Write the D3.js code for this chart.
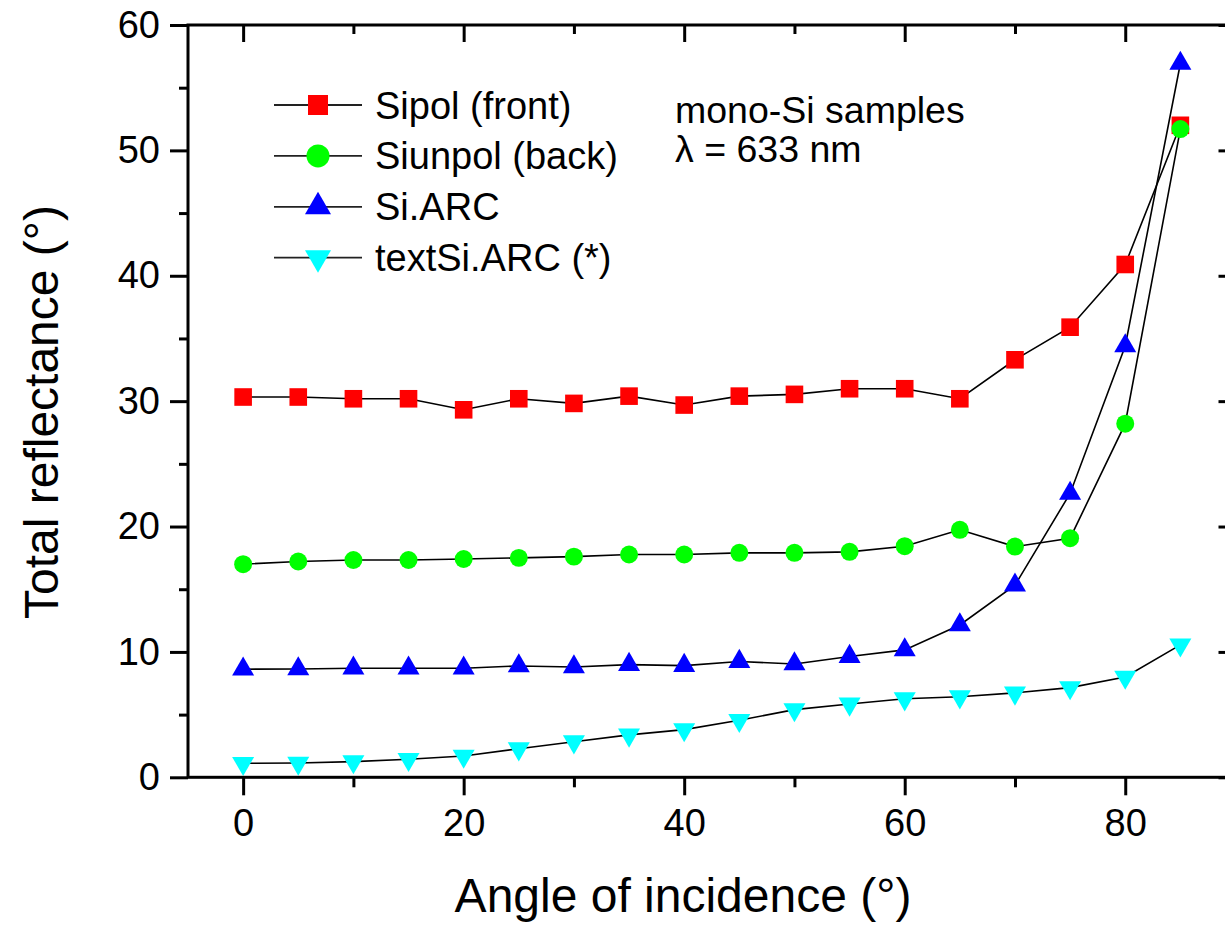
<!DOCTYPE html>
<html>
<head>
<meta charset="utf-8">
<script src="https://cdn.jsdelivr.net/npm/d3@7/dist/d3.min.js"></script>
<style>
  html, body { margin: 0; padding: 0; background: #fff; }
  svg { display: block; font-family: "Liberation Sans", Arial, sans-serif; }
</style>
</head>
<body>
<svg id="chart" width="1225" height="928"></svg>
<script>
// ---- data ----
const angles = [0, 5, 10, 15, 20, 25, 30, 35, 40, 45, 50, 55, 60, 65, 70, 75, 80, 85];
const sipolFront = [30.33, 30.33, 30.19, 30.19, 29.31, 30.19, 29.82, 30.4, 29.69, 30.4, 30.54, 30.99, 30.99, 30.19, 33.3, 35.9, 40.9, 52.0];
const siunpolBack = [17.0, 17.21, 17.33, 17.33, 17.41, 17.5, 17.6, 17.77, 17.77, 17.9, 17.9, 17.98, 18.43, 19.74, 18.4, 19.07, 28.2, 51.7];
const siARC = [8.62, 8.64, 8.7, 8.7, 8.7, 8.88, 8.8, 8.99, 8.91, 9.23, 9.04, 9.63, 10.16, 12.15, 15.32, 22.64, 34.4, 56.93];
const textSiARC = [1.12, 1.14, 1.25, 1.44, 1.70, 2.28, 2.84, 3.38, 3.80, 4.55, 5.4, 5.85, 6.27, 6.43, 6.73, 7.15, 8.0, 10.56];
const seriesNames = ["Sipol (front)", "Siunpol (back)", "Si.ARC", "textSi.ARC (*)"];
const xMajorTicks = [0, 20, 40, 60, 80];
const xMinorTicks = [10, 30, 50, 70, 90];
const yMajorTicks = [0, 10, 20, 30, 40, 50, 60];
const yMinorTicks = [5, 15, 25, 35, 45, 55];
const xTitle = "Angle of incidence (\u00B0)";
const yTitle = "Total reflectance (\u00B0)";
const notes = ["mono-Si samples", "\u03BB = 633 nm"];

const series = [
  { name: seriesNames[0], values: sipolFront, color: "#FF0000", shape: "square" },
  { name: seriesNames[1], values: siunpolBack, color: "#00FF00", shape: "circle" },
  { name: seriesNames[2], values: siARC, color: "#0000FF", shape: "up" },
  { name: seriesNames[3], values: textSiARC, color: "#00FFFF", shape: "down" }
];

// ---- layout ----
const svg = d3.select("#chart");
const L = 188, R = 1235.5, T = 25, B = 777.3;
const x = d3.scaleLinear().domain([-5, 90]).range([L, R]);
const y = d3.scaleLinear().domain([0, 60]).range([B, T]);

function symbolPath(shape, size) {
  if (shape === "square") return d3.symbol(d3.symbolSquare, size)();
  if (shape === "circle") return d3.symbol(d3.symbolCircle, size)();
  return d3.symbol(d3.symbolTriangle, size)();
}
const plotSizes = { square: 310, circle: 254, up: 210, down: 210 };
const legendSizes = { square: 400, circle: 415, up: 293, down: 293 };

// ---- series lines and markers ----
const line = d3.line().x(d => x(d[0])).y(d => y(d[1]));
series.forEach(s => {
  const pts = angles.map((a, i) => [a, s.values[i]]);
  svg.append("path").datum(pts)
    .attr("d", line).attr("fill", "none")
    .attr("stroke", "#000").attr("stroke-width", 1.6);
});
series.forEach(s => {
  const pts = angles.map((a, i) => [a, s.values[i]]);
  svg.append("g").selectAll("path").data(pts).join("path")
    .attr("d", symbolPath(s.shape, plotSizes[s.shape]))
    .attr("transform", d => `translate(${x(d[0])},${y(d[1])})` + (s.shape === "down" ? " rotate(180)" : ""))
    .attr("fill", s.color);
});

// ---- axes ----
const axisW = 3;
function styleAxis(g) {
  g.select(".domain").remove();
  g.selectAll(".tick line").attr("stroke", "#000").attr("stroke-width", axisW);
  g.selectAll(".tick text").attr("font-size", 38).attr("fill", "#000")
    .attr("font-family", '"Liberation Sans", Arial, sans-serif');
}
// bottom
svg.append("g").attr("transform", `translate(0,${B})`)
  .call(d3.axisBottom(x).tickValues(xMajorTicks).tickSize(18).tickPadding(14).tickFormat(d3.format("d")))
  .call(styleAxis);
svg.append("g").attr("transform", `translate(0,${B})`)
  .call(d3.axisBottom(x).tickValues(xMinorTicks).tickSize(10).tickFormat(""))
  .call(styleAxis);
// top (inward)
svg.append("g").attr("transform", `translate(0,${T})`)
  .call(d3.axisTop(x).tickValues(xMajorTicks).tickSize(-17).tickFormat(""))
  .call(styleAxis);
svg.append("g").attr("transform", `translate(0,${T})`)
  .call(d3.axisTop(x).tickValues(xMinorTicks).tickSize(-9).tickFormat(""))
  .call(styleAxis);
// left
svg.append("g").attr("transform", `translate(${L},0)`)
  .call(d3.axisLeft(y).tickValues(yMajorTicks).tickSize(18).tickPadding(10).tickFormat(d3.format("d")))
  .call(styleAxis);
svg.append("g").attr("transform", `translate(${L},0)`)
  .call(d3.axisLeft(y).tickValues(yMinorTicks).tickSize(9).tickFormat(""))
  .call(styleAxis);
// right (inward)
svg.append("g").attr("transform", `translate(${R},0)`)
  .call(d3.axisRight(y).tickValues(yMajorTicks).tickSize(-17).tickFormat(""))
  .call(styleAxis);
svg.append("g").attr("transform", `translate(${R},0)`)
  .call(d3.axisRight(y).tickValues(yMinorTicks).tickSize(-9).tickFormat(""))
  .call(styleAxis);
// frame
svg.append("rect").attr("x", L).attr("y", T).attr("width", R - L).attr("height", B - T)
  .attr("fill", "none").attr("stroke", "#000").attr("stroke-width", axisW);

// ---- axis titles ----
svg.append("text").attr("x", 683).attr("y", 912).attr("text-anchor", "middle")
  .attr("font-size", 48).attr("fill", "#000").text(xTitle);
svg.append("text").attr("transform", "translate(58,412) rotate(-90)").attr("text-anchor", "middle")
  .attr("font-size", 48).attr("fill", "#000").text(yTitle);

// ---- legend ----
const legY0 = 105, legDY = 50.9;
series.forEach((s, i) => {
  const ly = legY0 + i * legDY;
  svg.append("line").attr("x1", 274).attr("x2", 362).attr("y1", ly).attr("y2", ly)
    .attr("stroke", "#222").attr("stroke-width", 1.8);
  svg.append("path").attr("d", symbolPath(s.shape, legendSizes[s.shape]))
    .attr("transform", `translate(318,${ly})` + (s.shape === "down" ? " rotate(180)" : ""))
    .attr("fill", s.color);
  svg.append("text").attr("x", 375).attr("y", ly + 13.5).attr("font-size", 38)
    .attr("fill", "#000").text(s.name);
});

// ---- notes ----
svg.append("text").attr("x", 675).attr("y", 123).attr("font-size", 37.5).attr("fill", "#000").text(notes[0]);
svg.append("text").attr("x", 675).attr("y", 162).attr("font-size", 37.5).attr("fill", "#000").text(notes[1]);
</script>
</body>
</html>
